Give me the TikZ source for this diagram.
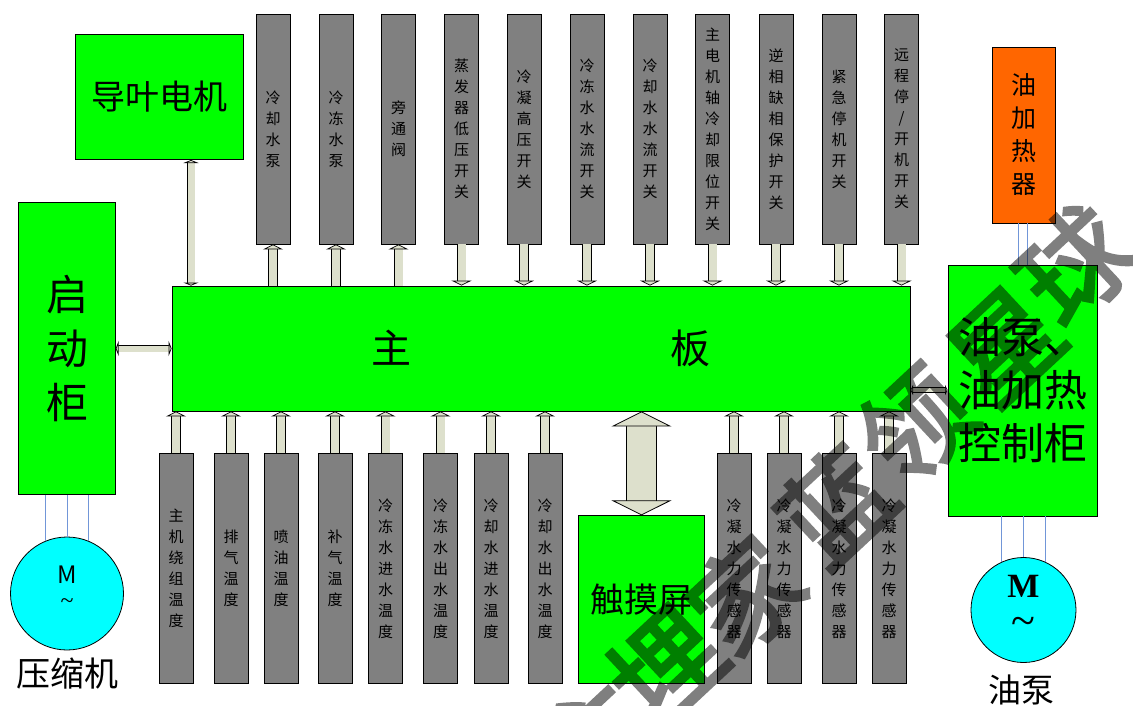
\documentclass[tikz,border=0pt]{standalone}
\usepackage{fontspec}
\setmainfont{Noto Sans CJK SC}
\newfontfamily\motorfont{Liberation Serif}
\newfontfamily\stampfont[FakeBold=3]{Noto Sans CJK SC}
\XeTeXlinebreaklocale "zh"
\XeTeXlinebreakskip=0pt plus 1pt
\usetikzlibrary{arrows.meta}
\definecolor{busfill}{HTML}{DDE0CC}
\definecolor{wirecol}{HTML}{7196D8}
\definecolor{heatcol}{HTML}{FF6600}
\definecolor{motorcol}{HTML}{00FFFF}
\tikzset{
	greenbox/.style={draw=black,fill=green,line width=.8pt,inner sep=0pt,align=center},
	signalbox/.style={draw=black,fill=gray,line width=.8pt,inner sep=0pt,minimum width=34pt,minimum height=230pt,
		text width=17pt,align=center,font=\fontsize{15}{21}\selectfont},
	motor/.style={circle,draw=black,fill=motorcol,line width=.8pt,inner sep=0pt},
	bus/.style={draw=black,line width=.8pt,double=busfill,double distance=#1},
	upbus/.style={bus=8pt,-{Triangle[fill=busfill,width=20pt,length=5pt,line width=.7pt]}},
	wire/.style={draw=wirecol,line width=1pt},
	stamp/.style={rotate=43,font=\stampfont\fontsize{108}{108}\selectfont,inner sep=0pt}
}
\begin{document}
\begin{tikzpicture}[x=1pt,y=-1pt]
	\useasboundingbox (0,0) rectangle (1133,705);
	\node[greenbox,minimum width=738pt,minimum height=125pt,font=\fontsize{40}{40}\selectfont] (board) at (541,348.5) {主\hspace{259pt}板};
	\node[greenbox,minimum width=168pt,minimum height=125.5pt,font=\fontsize{34}{34}\selectfont] (vane) at (159,97) {导叶电机};
	\node[greenbox,minimum width=96.5pt,minimum height=292.5pt,font=\fontsize{42}{54}\selectfont] (starter) at (67,348.5) {启\\动\\柜};
	\node[greenbox,minimum width=125.5pt,minimum height=167.5pt,font=\fontsize{34}{34}\selectfont] (touch) at (641.5,599.5) {触摸屏};
	\node[greenbox,minimum width=149pt,minimum height=251pt,font=\fontsize{43}{53}\selectfont] (oilbox) at (1022.5,390.5) {油泵、\\油加热\\控制柜};
	\node[draw=black,fill=heatcol,line width=.8pt,inner sep=0pt,minimum width=63pt,minimum height=176pt,align=center,font=\fontsize{25}{33}\selectfont] (heater) at (1023.5,135) {油\\加\\热\\器};
	\foreach \x/\t [count=\i] in {273/冷却水泵,336/冷冻水泵,398.5/旁通阀,461.5/蒸发器低压开关,524/冷凝高压开关,587/冷冻水水流开关,650/冷却水水流开关,712.5/主电机轴冷却限位开关,776/逆相缺相保护开关,839/紧急停机开关,901.5/{远程停\\/\\开机开关}}
		\node[signalbox] (top\i) at (\x,129) {\t};
	\foreach \x/\t [count=\i] in {176/主机绕组温度,231/排气温度,281/喷油温度,335/补气温度,385.5/冷冻水进水温度,440.5/冷冻水出水温度,491/冷却水进水温度,545/冷却水出水温度,734/冷凝水力传感器,784/冷凝水力传感器,839/冷凝水力传感器,889/冷凝水力传感器}
		\node[signalbox] (low\i) at (\x,568.5) {\t};
	\foreach \i in {1,2,3}
		\draw[upbus] (top\i.south |- board.north) -- (top\i.south);
	\foreach \i in {4,...,11}
		\draw[upbus] (top\i.south) -- (top\i.south |- board.north);
	\foreach \i in {1,...,12}
		\draw[upbus] (low\i.north) -- (low\i.north |- board.south);
	\draw[bus=29pt,{Triangle[fill=busfill,width=60pt,length=15pt,line width=.8pt]}-{Triangle[fill=busfill,width=60pt,length=15pt,line width=.8pt]}] (touch.north |- board.south) -- (touch.north);
	\coordinate (vanefoot) at (191,160);
	\draw[bus=7pt,{Triangle[fill=busfill,width=15pt,length=3pt,line width=.7pt]}-{Triangle[fill=busfill,width=15pt,length=3pt,line width=.7pt]}] (vanefoot) -- (vanefoot |- board.north);
	\draw[bus=6pt,{Triangle[fill=busfill,width=15pt,length=3pt,line width=.7pt]}-{Triangle[fill=busfill,width=15pt,length=3pt,line width=.7pt]}] (starter.east |- board.west) -- (board.west);
	\coordinate (oilbus) at (910.5,390);
	\draw[bus=4pt,{Triangle[fill=busfill,width=10pt,length=2.5pt,line width=.6pt]}-{Triangle[fill=busfill,width=10pt,length=2.5pt,line width=.6pt]}] (oilbus) -- (oilbus -| oilbox.west);
	\node[motor,minimum size=113pt] (comp) at (67,593.5) {};
	\node[motor,minimum size=105pt] (pump) at (1023.5,610) {};
	\node[font=\fontsize{24}{24}\selectfont] (compm) at (67,575) {M};
	\node[font=\motorfont\fontsize{24}{24}\selectfont] (compt) at (67,604) {\textasciitilde};
	\node[font=\motorfont\bfseries\fontsize{34}{34}\selectfont] (pumpm) at (1023.5,586) {M};
	\node[font=\motorfont\fontsize{44}{44}\selectfont] (pumpt) at (1023.5,626) {\textasciitilde};
	\node[font=\fontsize{34}{34}\selectfont,inner sep=0pt] (complabel) at (67.5,674) {压缩机};
	\node[font=\fontsize{33}{33}\selectfont,inner sep=0pt] (pumplabel) at (1021,690) {油泵};
	\foreach \a in {68,90,112}
		\draw[wire] (comp.\a |- starter.south) -- (comp.\a);
	\foreach \a in {66,90,114}
		\draw[wire] (pump.\a |- oilbox.south) -- (pump.\a);
	\foreach \d in {-4.8,4}
		\draw[wire] ([xshift=\d pt]heater.south) -- ([xshift=\d pt]heater.south |- oilbox.north);
	\begin{scope}[transparency group,opacity=.5]
		\foreach \x/\y/\t in {595/735/主,665/665/埋,745/595/家,835/505/蓝,915/425/领,1005/345/星,1075/265/球}
			\node[stamp] (wm\t) at (\x,\y) {\t};
	\end{scope}
\end{tikzpicture}
\end{document}
